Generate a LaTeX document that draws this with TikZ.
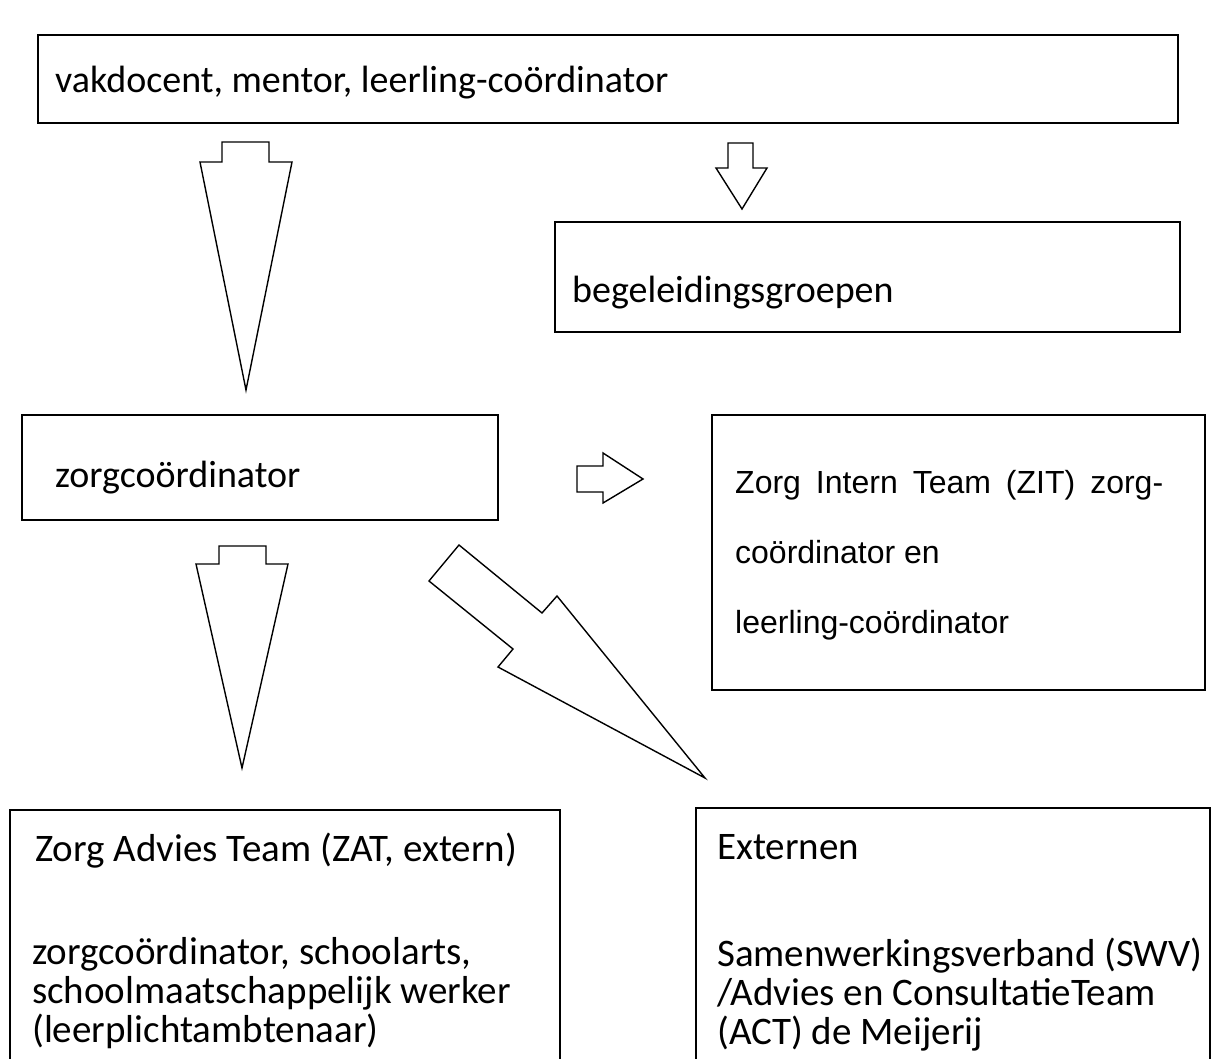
\documentclass[tikz,border=0pt]{standalone}
\usepackage{fontspec}
\setmainfont{Carlito}
\newfontfamily\arialfont{Liberation Sans}
\usetikzlibrary{positioning}
\tikzset{
  box/.style={draw, line width=1.3pt, inner sep=0pt, outer sep=0pt, anchor=north west},
  txt/.style={inner sep=0pt, anchor=base west, font=\fontsize{38}{44}\selectfont},
  btxt/.style={txt, font=\fontsize{39}{44}\selectfont},
  ztxt/.style={inner sep=0pt, anchor=base west, font=\arialfont\fontsize{32}{38}\selectfont},
  blk/.style={draw, line width=1.4pt, fill=white, line join=miter},
}
\begin{document}
\begin{tikzpicture}[x=1pt, y=-1pt]
\useasboundingbox (0,0) rectangle (1219,1059);
\clip (0,0) rectangle (1219,1059);
% boxes
\node[box, minimum width=1140, minimum height=88] (top) at (38,35) {};
\node[box, minimum width=625, minimum height=110] (begel) at (555,222) {};
\node[box, minimum width=476, minimum height=105] (zorg) at (22,415) {};
\node[box, minimum width=493, minimum height=275] (zit) at (712,415) {};
\node[box, minimum width=550, minimum height=300] (zat) at (10,810) {};
\node[box, minimum width=514, minimum height=300] (ext) at (696,808) {};
% texts
\node[txt] (toptxt) at (55,93) {vakdocent, mentor, leerling-coördinator};
\node[txt] (begeltxt) at (572,303) {begeleidingsgroepen};
\node[txt] (zorgtxt) at (55,487) {zorgcoördinator};
\node[ztxt] (zit1) at (735,493) {\hbox to 428pt{Zorg\hfill Intern\hfill Team\hfill (ZIT)\hfill zorg-}};
\foreach \t [count=\i from 2] in {{coördinator en},{leerling-coördinator}}
  \node[ztxt] (zit\i) at (735,423+70*\i) {\t};
\node[btxt] (zattitle) at (35,861) {Zorg Advies Team (ZAT, extern)};
\foreach \t [count=\i] in {{zorgcoördinator, schoolarts,},{schoolmaatschappelijk werker},{(leerplichtambtenaar)}}
  \node[btxt] (zat\i) at (32,925+39*\i) {\t};
\node[btxt] (exttitle) at (717,859) {Externen};
\foreach \t [count=\i] in {{Samenwerkingsverband (SWV)},{/Advies en ConsultatieTeam},{(ACT) de Meijerij}}
  \node[btxt] (ext\i) at (717,927+39*\i) {\t};
% block arrows
\draw[blk] (222,142)--(269,142)--(269,162)--(292,162)--(246,390)--(200,162)--(222,162)--cycle;
\draw[blk] (728,143)--(753,143)--(753,168)--(767,168)--(742,209)--(716,168)--(728,168)--cycle;
\draw[blk] (577,466)--(603,466)--(603,453)--(643,479)--(603,503)--(603,492)--(577,492)--cycle;
\draw[blk] (219,546)--(266,546)--(266,564)--(288,564)--(242,768)--(196,564)--(219,564)--cycle;
\draw[blk] (459,545)--(542,613)--(557,596)--(705,778)--(498,667)--(513,649)--(429,581)--cycle;
\end{tikzpicture}
\end{document}
